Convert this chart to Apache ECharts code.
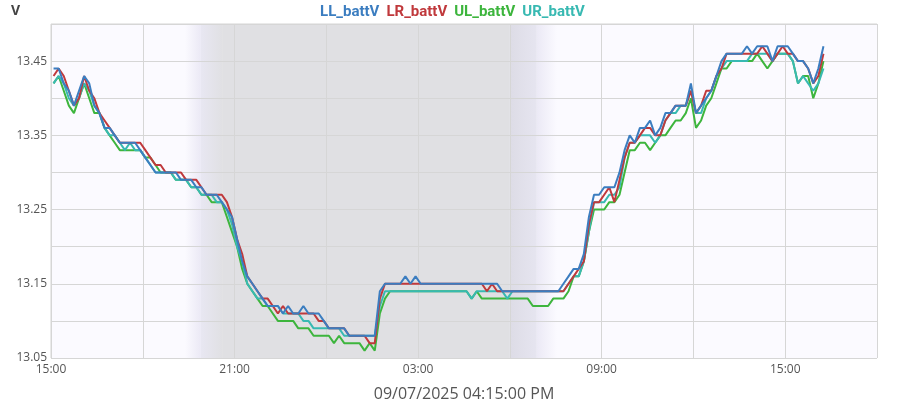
<!DOCTYPE html>
<html><head><meta charset="utf-8">
<script src="https://cdn.jsdelivr.net/npm/echarts@6/dist/echarts.min.js"></script>
<style>html,body{margin:0;padding:0;background:#fff}#c{width:900px;height:400px}</style>
</head><body><div id="c"></div>
<script>
// ---- data ----
const seriesNames = ['LL_battV', 'LR_battV', 'UL_battV', 'UR_battV'];
const axisStartHour = 15;        // x axis starts 15:00 on 09/06
const axisSpanHours = 27;        // ends 18:00 on 09/07
const firstSampleMin = 5;        // first sample 15:05
const sampleStepMin = 10;        // one sample every 10 minutes
const xAxisTitle = '09/07/2025 04:15:00 PM';
const yAxisTitle = 'V';
// twilight edges, hours after 15:00 (dusk start, dusk mid, night, dawn start, dawn mid, day)
const twilightHours = [4.38, 4.90, 5.62, 15.0, 15.88, 16.54];

const LL = [
13.44,13.44,13.42,13.41,13.39,13.41,13.43,13.42,13.39,13.38,
13.36,13.36,13.35,13.34,13.34,13.34,13.34,13.33,13.32,13.31,
13.30,13.30,13.30,13.30,13.30,13.29,13.29,13.29,13.28,13.28,
13.27,13.27,13.27,13.26,13.25,13.24,13.21,13.18,13.16,13.15,
13.14,13.13,13.12,13.12,13.12,13.11,13.12,13.11,13.11,13.12,
13.11,13.11,13.11,13.10,13.09,13.09,13.09,13.09,13.08,13.08,
13.08,13.08,13.08,13.08,13.14,13.15,13.15,13.15,13.15,13.16,
13.15,13.16,13.15,13.15,13.15,13.15,13.15,13.15,13.15,13.15,
13.15,13.15,13.15,13.15,13.15,13.15,13.15,13.15,13.14,13.14,
13.14,13.14,13.14,13.14,13.14,13.14,13.14,13.14,13.14,13.14,
13.15,13.16,13.17,13.17,13.19,13.24,13.27,13.27,13.28,13.28,
13.28,13.30,13.33,13.35,13.34,13.36,13.36,13.37,13.35,13.36,
13.38,13.38,13.39,13.39,13.39,13.42,13.38,13.39,13.40,13.41,
13.43,13.45,13.46,13.46,13.46,13.46,13.47,13.46,13.47,13.47,
13.47,13.45,13.47,13.47,13.47,13.46,13.45,13.45,13.44,13.42,
13.44,13.47];

const LR = [
13.43,13.44,13.43,13.41,13.39,13.40,13.43,13.41,13.40,13.38,
13.37,13.36,13.35,13.34,13.34,13.34,13.34,13.34,13.33,13.32,
13.31,13.31,13.30,13.30,13.30,13.30,13.29,13.29,13.29,13.28,
13.27,13.27,13.27,13.27,13.26,13.24,13.21,13.19,13.16,13.15,
13.14,13.13,13.13,13.12,13.11,13.12,13.11,13.11,13.11,13.11,
13.11,13.11,13.10,13.10,13.09,13.09,13.09,13.09,13.08,13.08,
13.08,13.08,13.07,13.07,13.13,13.15,13.15,13.15,13.15,13.15,
13.15,13.15,13.15,13.15,13.15,13.15,13.15,13.15,13.15,13.15,
13.15,13.15,13.15,13.15,13.15,13.14,13.15,13.14,13.14,13.14,
13.14,13.14,13.14,13.14,13.14,13.14,13.14,13.14,13.14,13.14,
13.14,13.15,13.16,13.17,13.18,13.23,13.26,13.26,13.27,13.28,
13.26,13.29,13.32,13.34,13.34,13.35,13.36,13.36,13.35,13.35,
13.37,13.38,13.39,13.39,13.39,13.41,13.38,13.39,13.41,13.41,
13.43,13.44,13.46,13.46,13.46,13.46,13.46,13.46,13.46,13.47,
13.46,13.45,13.46,13.47,13.46,13.46,13.45,13.45,13.44,13.42,
13.43,13.46];

const UL = [
13.42,13.43,13.41,13.39,13.38,13.40,13.42,13.40,13.38,13.38,
13.36,13.35,13.34,13.33,13.33,13.33,13.33,13.33,13.32,13.32,
13.31,13.30,13.30,13.30,13.29,13.29,13.29,13.28,13.28,13.27,
13.27,13.26,13.26,13.26,13.24,13.22,13.20,13.17,13.15,13.14,
13.13,13.12,13.12,13.11,13.10,13.10,13.10,13.10,13.09,13.09,
13.09,13.08,13.08,13.08,13.08,13.07,13.08,13.07,13.07,13.07,
13.07,13.06,13.07,13.06,13.11,13.13,13.14,13.14,13.14,13.14,
13.14,13.14,13.14,13.14,13.14,13.14,13.14,13.14,13.14,13.14,
13.14,13.14,13.13,13.14,13.13,13.13,13.13,13.13,13.13,13.13,
13.13,13.13,13.13,13.13,13.12,13.12,13.12,13.12,13.13,13.13,
13.13,13.14,13.16,13.16,13.18,13.22,13.25,13.25,13.25,13.26,
13.26,13.27,13.30,13.33,13.33,13.34,13.34,13.33,13.34,13.35,
13.35,13.36,13.37,13.37,13.38,13.40,13.36,13.37,13.39,13.40,
13.42,13.44,13.44,13.45,13.45,13.45,13.45,13.45,13.46,13.45,
13.44,13.45,13.46,13.46,13.46,13.45,13.42,13.43,13.43,13.40,
13.42,13.45];

const UR = [
13.42,13.43,13.42,13.40,13.39,13.40,13.42,13.41,13.39,13.38,
13.36,13.35,13.35,13.34,13.33,13.34,13.33,13.33,13.32,13.31,
13.30,13.30,13.30,13.30,13.29,13.29,13.29,13.28,13.28,13.27,
13.27,13.27,13.26,13.26,13.25,13.23,13.20,13.18,13.15,13.14,
13.13,13.13,13.12,13.12,13.12,13.11,13.11,13.11,13.11,13.10,
13.10,13.09,13.09,13.09,13.09,13.09,13.09,13.08,13.08,13.08,
13.08,13.08,13.08,13.08,13.12,13.14,13.14,13.14,13.14,13.14,
13.14,13.14,13.14,13.14,13.14,13.14,13.14,13.14,13.14,13.14,
13.14,13.14,13.13,13.14,13.14,13.14,13.14,13.14,13.14,13.13,
13.14,13.14,13.14,13.14,13.14,13.14,13.14,13.14,13.14,13.14,
13.14,13.15,13.16,13.16,13.18,13.22,13.26,13.26,13.26,13.27,
13.27,13.28,13.32,13.34,13.34,13.35,13.35,13.35,13.34,13.35,
13.37,13.38,13.38,13.39,13.39,13.41,13.38,13.38,13.40,13.41,
13.43,13.44,13.45,13.45,13.45,13.45,13.45,13.46,13.46,13.46,
13.46,13.45,13.46,13.46,13.46,13.45,13.42,13.43,13.42,13.41,
13.42,13.44];

// ---- chart ----
const seriesValues = [LL, LR, UL, UR];
const colors = ['#3b7dc0', '#c0393c', '#3db53d', '#38b9b2'];
const zOrder = [6, 5, 3, 4];

function pairs(vals) {
  return vals.map((v, i) => [(firstSampleMin + i * sampleStepMin) / 60, v]);
}
function hourLabel(v) {
  const h = (axisStartHour + Math.round(v)) % 24;
  return (h < 10 ? '0' : '') + h + ':00';
}
function grad(a, b) {
  return { type: 'linear', x: 0, y: 0, x2: 1, y2: 0, colorStops: [{ offset: 0, color: a }, { offset: 1, color: b }] };
}
const T = twilightHours;
const bandSeries = {
  name: 'bands', type: 'line', data: [], z: 1, silent: true,
  markArea: {
    silent: true, z: 1,
    data: [
      [{ xAxis: 0, itemStyle: { color: '#fbfaff' } }, { xAxis: axisSpanHours }],
      [{ xAxis: T[0], itemStyle: { color: grad('#fbfaff', '#ebe9f5') } }, { xAxis: T[1] }],
      [{ xAxis: T[1], itemStyle: { color: grad('#e8e7f2', '#e0e0e3') } }, { xAxis: T[2] }],
      [{ xAxis: T[2], itemStyle: { color: '#e0e0e3' } }, { xAxis: T[3] }],
      [{ xAxis: T[3], itemStyle: { color: grad('#dddce6', '#e6e5f0') } }, { xAxis: T[4] }],
      [{ xAxis: T[4], itemStyle: { color: grad('#ebe9f5', '#fbfaff') } }, { xAxis: T[5] }]
    ]
  }
};

const chart = echarts.init(document.getElementById('c'), null, { renderer: 'canvas' });
chart.setOption({
  animation: false,
  textStyle: { fontFamily: 'Open Sans' },
  legend: {
    top: 0, left: 'center', icon: 'none', itemWidth: 0, itemHeight: 0, itemGap: 2,
    data: seriesNames.map((n, i) => ({ name: n, textStyle: { color: colors[i] } })),
    textStyle: { fontFamily: 'Roboto', fontSize: 15, fontWeight: 'bold' }
  },
  grid: { left: 51, right: 23, top: 24, bottom: 42, containLabel: false, outerBoundsMode: 'none',
          show: true, backgroundColor: 'transparent', borderColor: '#d4d4d4', borderWidth: 1 },
  xAxis: {
    type: 'value', min: 0, max: axisSpanHours, interval: 3, z: 1.5,
    name: xAxisTitle, nameLocation: 'middle', nameGap: 28,
    nameTextStyle: { fontSize: 16, color: '#555' },
    axisLine: { show: false }, axisTick: { show: false },
    axisLabel: { color: '#555', fontSize: 12, margin: 6, formatter: v => (Math.round(v) % 6 === 0 && v < axisSpanHours) ? hourLabel(v) : '' },
    splitLine: { show: true, lineStyle: { color: '#d6d6d6', width: 1 } }
  },
  yAxis: {
    type: 'value', min: 13.05, max: 13.5, interval: 0.05, z: 1.5,
    name: yAxisTitle, nameLocation: 'end', nameGap: 6,
    nameTextStyle: { fontSize: 14, fontWeight: 'bold', color: '#444', align: 'right', padding: [0, 31, 0, 0] },
    axisLine: { show: false }, axisTick: { show: false },
    axisLabel: { color: '#555', fontSize: 12, margin: 4, formatter: v => (Math.round((v - 13.05) * 100) % 10 === 0 && v < 13.49) ? v.toFixed(2) : '' },
    splitLine: { show: true, lineStyle: { color: '#d6d6d6', width: 1 } }
  },
  series: [bandSeries].concat(seriesNames.map((n, i) => ({
    name: n, type: 'line', data: pairs(seriesValues[i]), showSymbol: false, symbol: 'none',
    z: zOrder[i], color: colors[i], lineStyle: { width: 2, color: colors[i] }
  })))
});
</script></body></html>
